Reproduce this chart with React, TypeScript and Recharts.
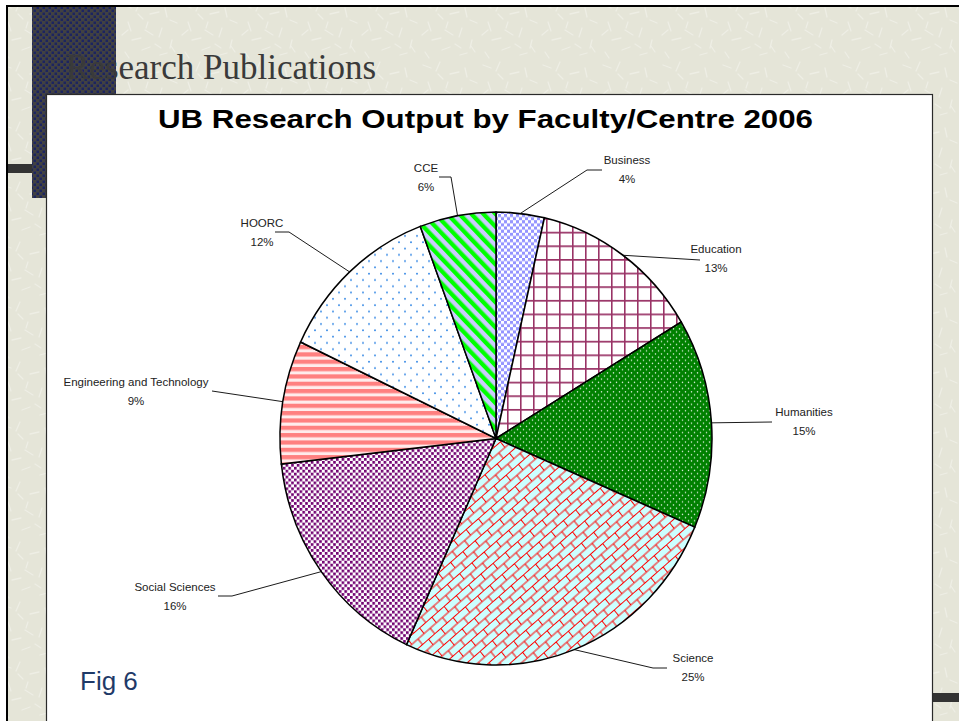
import React from 'react';
import { PieChart, Pie, Cell } from 'recharts';

// ---- data ----
const FACULTIES = [
  'Business',
  'Education',
  'Humanities',
  'Science',
  'Social Sciences',
  'Engineering and Technology',
  'HOORC',
  'CCE',
];
const SHARES = [3.6, 12.8, 15.0, 25.4, 16.4, 8.8, 12.3, 5.7];
const CHART_TITLE = 'UB Research Output by Faculty/Centre 2006';
const SLIDE_TITLE = 'Research Publications';
const FIG_LABEL = 'Fig 6';

// ---- layout / style (kept separate from data) ----
const PATTERNS = ['pBus', 'pEdu', 'pHum', 'pSci', 'pSoc', 'pEng', 'pHoo', 'pCce'];
const SY = 226.5 / 216; // vertical stretch of the pie
const CX = 496;
const CY_ABS = 438.5;
const R = 216;
// label text centre / baseline and leader elbow + end (page coordinates)
const LABEL_LAYOUT = [
  { tx: 627, ty: 164, ex: 587, ey: 170, hx: 602 },
  { tx: 716, ty: 253, ex: 700, ey: 260, hx: 700 },
  { tx: 804, ty: 416, ex: 772, ey: 422, hx: 772 },
  { tx: 693, ty: 662, ex: 653, ey: 668, hx: 667 },
  { tx: 175, ty: 591, ex: 232, ey: 596, hx: 218 },
  { tx: 136, ty: 386, ex: 212, ey: 391, hx: 212 },
  { tx: 262, ty: 227, ex: 289, ey: 232, hx: 275 },
  { tx: 426, ty: 172, ex: 451, ey: 177, hx: 439 },
];

const data = FACULTIES.map((name, i) => ({ name, value: SHARES[i] }));

const LABEL_FONT = 'Liberation Sans, Arial, sans-serif';

const renderLabel = (p: any) => {
  const L = LABEL_LAYOUT[p.index];
  const rad = Math.PI / 180;
  const x0 = p.cx + p.outerRadius * Math.cos(-p.midAngle * rad);
  const y0 = (p.cy + p.outerRadius * Math.sin(-p.midAngle * rad)) * SY;
  const pct = Math.round(p.percent * 100);
  return (
    <g transform={`scale(1 ${1 / SY})`}>
      <polyline
        points={`${x0},${y0} ${L.ex},${L.ey} ${L.hx},${L.ey}`}
        fill="none"
        stroke="#000"
        strokeWidth={0.9}
      />
      <text x={L.tx} y={L.ty} textAnchor="middle" fontFamily={LABEL_FONT} fontSize={11.5} fill="#222">
        {p.name}
      </text>
      <text x={L.tx} y={L.ty + 18.5} textAnchor="middle" fontFamily={LABEL_FONT} fontSize={11.5} fill="#222">
        {pct}%
      </text>
    </g>
  );
};

const Background = () => (
  <svg width={959} height={721} style={{ position: 'absolute', left: 0, top: 0 }}>
    <defs>
      <pattern id="tex" width="60" height="60" patternUnits="userSpaceOnUse">
        <rect width="60" height="60" fill="#E5E5D8" />
        <path
          d="M3 5 l8 3 M20 2 l-4 9 M30 14 l9 -2 M8 22 l3 9 M25 30 l8 5 M42 28 l-3 9 M12 40 l9 -2 M35 44 l6 4 M45 8 l2 9 M18 14 l5 5 M2 35 l6 -5 M28 22 l-2 6 M50 20 l7 3 M52 40 l-2 8 M22 50 l8 -3 M5 52 l4 6 M40 55 l7 -2 M55 52 l-4 -6"
          stroke="#EEEEE5"
          strokeWidth="1.3"
          strokeLinecap="round"
        />
      </pattern>
      <pattern id="navy" width="6" height="6" patternUnits="userSpaceOnUse">
        <rect width="6" height="6" fill="#414141" />
        <rect x="0.5" y="0.5" width="2.5" height="2.5" fill="#1C2460" />
        <rect x="3.5" y="3.5" width="2.5" height="2.5" fill="#1C2460" />
      </pattern>
      {/* pie fills */}
      <pattern id="pBus" width="6" height="6" patternUnits="userSpaceOnUse">
        <rect width="6" height="6" fill="#fff" />
        <rect width="3" height="3" fill="#9494FF" />
        <rect x="3" y="3" width="3" height="3" fill="#9494FF" />
      </pattern>
      <pattern id="pEdu" width="13" height="13" patternUnits="userSpaceOnUse">
        <rect width="13" height="13" fill="#fff" />
        <path d="M0 0.8 H13 M0.8 0 V13" stroke="#993366" strokeWidth="1.6" />
      </pattern>
      <pattern id="pHum" width="6" height="6" patternUnits="userSpaceOnUse">
        <rect width="6" height="6" fill="#008000" />
        <circle cx="1.5" cy="1.5" r="0.75" fill="#D8ECD8" />
        <circle cx="4.5" cy="4.5" r="0.75" fill="#D8ECD8" />
      </pattern>
      <pattern id="pSci" width="16" height="14" patternUnits="userSpaceOnUse" patternTransform="rotate(-40)">
        <rect width="16" height="14" fill="#CCFFFF" />
        <path d="M0 0.5 H16 M0 7.5 H16 M0.5 0.5 V7.5 M8.5 7.5 V14" stroke="#FF0000" strokeWidth="1" />
      </pattern>
      <pattern id="pSoc" width="5.6" height="5.6" patternUnits="userSpaceOnUse">
        <rect width="5.6" height="5.6" fill="#fff" />
        <rect width="2.6" height="2.6" fill="#700070" />
        <rect x="2.8" y="2.8" width="2.6" height="2.6" fill="#700070" />
      </pattern>
      <pattern id="pEng" width="7" height="7" patternUnits="userSpaceOnUse">
        <rect width="7" height="7" fill="#FFECEC" />
        <rect width="7" height="4" fill="#FF8080" />
      </pattern>
      <pattern id="pHoo" width="12" height="12" patternUnits="userSpaceOnUse">
        <rect width="12" height="12" fill="#fff" />
        <circle cx="3" cy="3" r="1" fill="#3C8CE6" />
        <circle cx="9" cy="9" r="1" fill="#3C8CE6" />
      </pattern>
      <pattern id="pCce" width="8.5" height="8.5" patternUnits="userSpaceOnUse" patternTransform="rotate(-45)">
        <rect width="8.5" height="8.5" fill="#CCCCFF" />
        <rect width="4.2" height="8.5" fill="#00FF00" />
      </pattern>
    </defs>
    <rect width={959} height={721} fill="#fff" />
    <rect x={8} y={7} width={951} height={714} fill="url(#tex)" />
    <rect x={6} y={5} width={953} height={2} fill="#000" />
    <rect x={6} y={5} width={2} height={716} fill="#000" />
    <rect x={32} y={7} width={84} height={87} fill="url(#navy)" />
    <rect x={32} y={94} width={14.5} height={104} fill="url(#navy)" />
    <rect x={8} y={164} width={24} height={9} fill="#333" />
    <rect x={933} y={693} width={26} height={9} fill="#333" />
    <rect x={46.5} y={94.5} width={886} height={640} fill="#fff" stroke="#2a2a2a" strokeWidth={1.2} />
    <text x={66} y={79} fontFamily="Liberation Serif, Times New Roman, serif" fontSize={35} fill="#3a3a3a">
      {SLIDE_TITLE}
    </text>
    <text
      x={158}
      y={128}
      fontFamily={LABEL_FONT}
      fontWeight="bold"
      fontSize={26}
      fill="#000"
      textLength={655}
      lengthAdjust="spacingAndGlyphs"
    >
      {CHART_TITLE}
    </text>
    <text x={80} y={690} fontFamily={LABEL_FONT} fontSize={26} fill="#1F3A68">
      {FIG_LABEL}
    </text>
  </svg>
);

export default function App() {
  return (
    <div style={{ position: 'absolute', left: 0, top: 0, width: 959, height: 721, overflow: 'hidden' }}>
      <Background />
      <div
        style={{
          position: 'absolute',
          left: 0,
          top: 0,
          transform: `scaleY(${SY})`,
          transformOrigin: '0 0',
        }}
      >
        <PieChart width={959} height={Math.round(721 / SY)} margin={{ top: 0, right: 0, bottom: 0, left: 0 }}>
          <Pie
            data={data}
            dataKey="value"
            nameKey="name"
            cx={CX}
            cy={CY_ABS / SY}
            innerRadius={0}
            outerRadius={R}
            startAngle={90}
            endAngle={-270}
            stroke="#000"
            strokeWidth={1.5}
            isAnimationActive={false}
            label={renderLabel}
            labelLine={false}
          >
            {data.map((d, i) => (
              <Cell key={d.name} fill={`url(#${PATTERNS[i]})`} />
            ))}
          </Pie>
        </PieChart>
      </div>
    </div>
  );
}
